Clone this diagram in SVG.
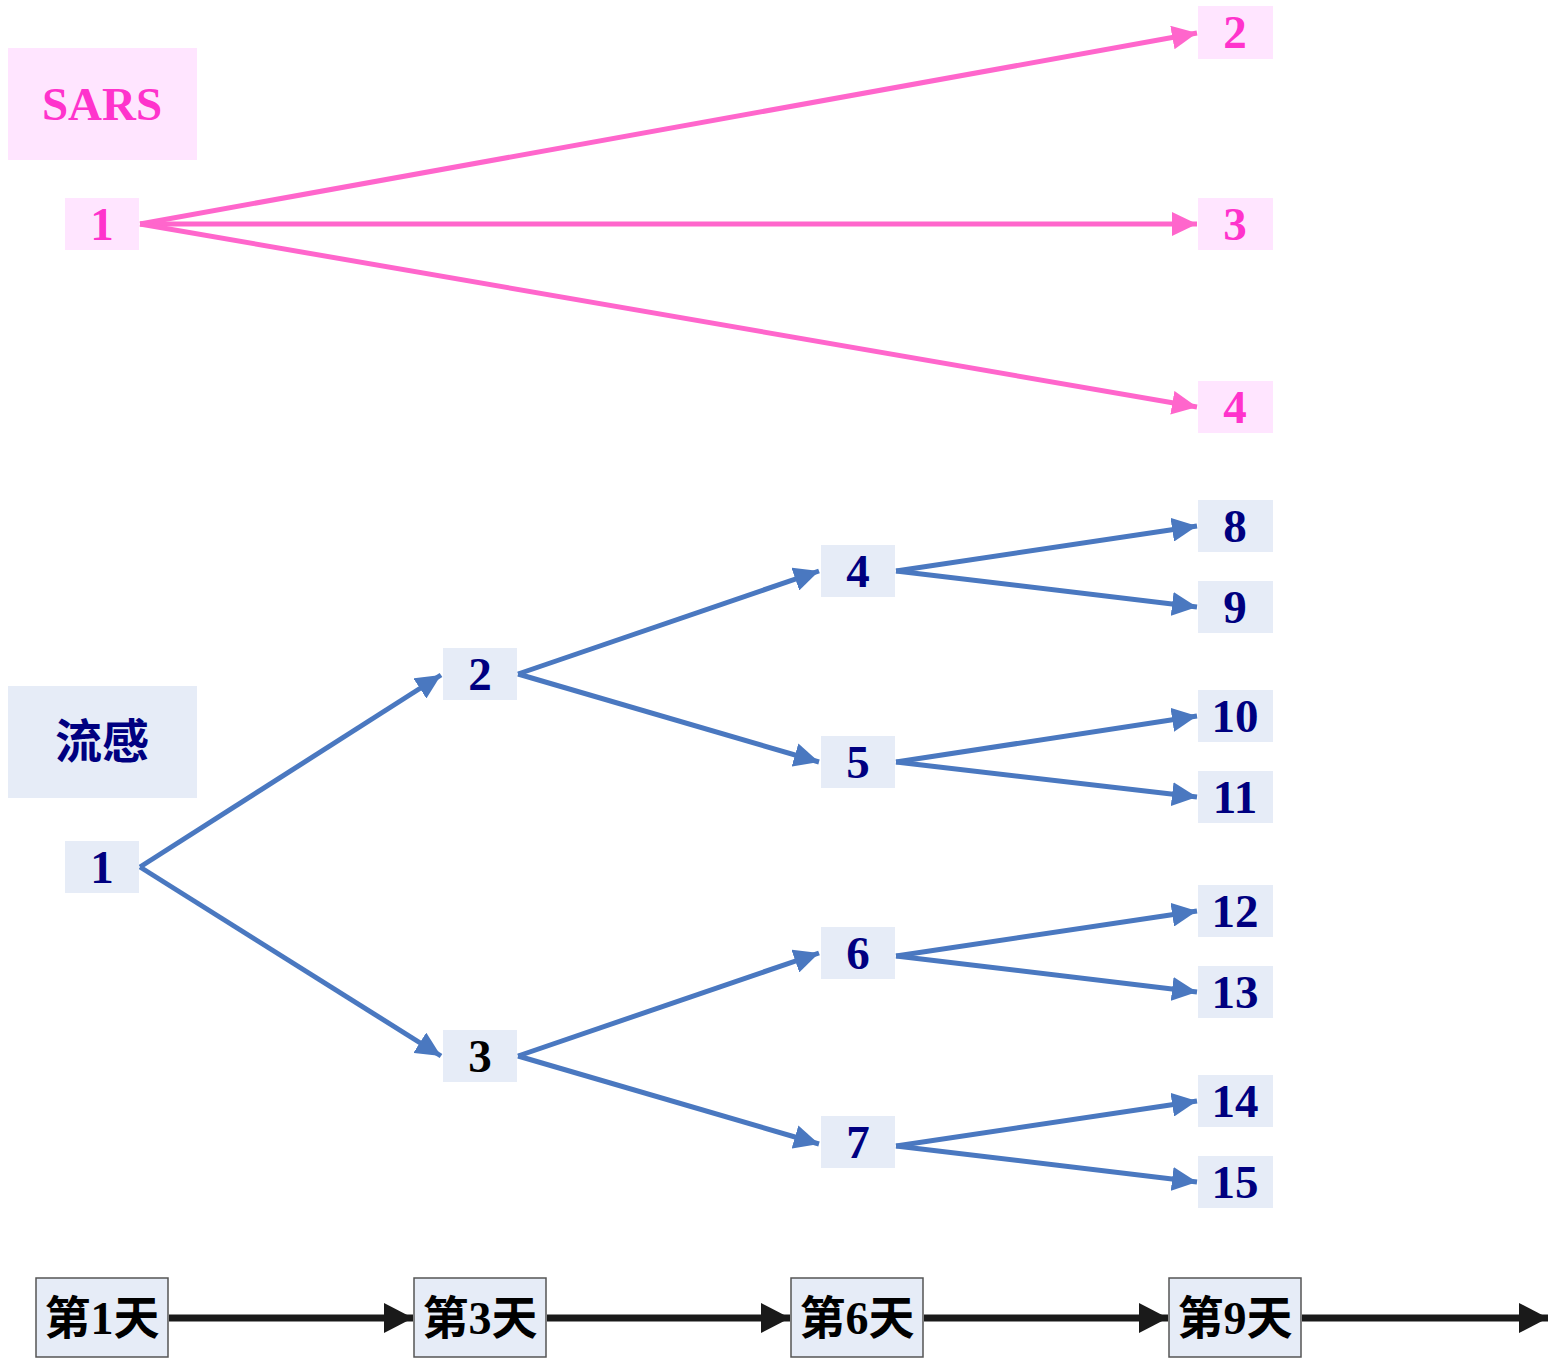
<svg xmlns="http://www.w3.org/2000/svg" width="1551" height="1362" viewBox="0 0 1551 1362">
  <style>
    text { font-family: "Liberation Serif", "Noto Sans CJK SC", serif; font-weight: bold; text-anchor: middle; dominant-baseline: central; }
    .pbox { fill: #FFE5FF; }
    .bbox { fill: #E6ECF7; }
    .ptxt { fill: #FF33CC; font-size: 47px; }
    .btxt { fill: #000080; font-size: 47px; }
    .ktxt { fill: #000000; font-size: 47px; }
    .day { fill: #E6ECF7; stroke: #555555; stroke-width: 1.5; }
    .dtxt { fill: #000000; font-size: 46px; }
    .pl { stroke: #FF66CC; stroke-width: 5; fill: none; marker-end: url(#ah-pink); }
    .bl { stroke: #4A78C0; stroke-width: 5; fill: none; marker-end: url(#ah-blue); }
    .kl { stroke: #1A1A1A; stroke-width: 7; fill: none; marker-end: url(#ah-black); }
  </style>
  <defs>
    <marker id="ah-pink" markerUnits="userSpaceOnUse" markerWidth="26" markerHeight="24" refX="25" refY="12" orient="auto">
      <path d="M0,0 L25,12 L0,24 z" fill="#FF66CC"/>
    </marker>
    <marker id="ah-blue" markerUnits="userSpaceOnUse" markerWidth="26" markerHeight="24" refX="25" refY="12" orient="auto">
      <path d="M0,0 L25,12 L0,24 z" fill="#4A78C0"/>
    </marker>
    <marker id="ah-black" markerUnits="userSpaceOnUse" markerWidth="30" markerHeight="30" refX="29" refY="15" orient="auto">
      <path d="M0,0 L29,15 L0,30 z" fill="#1A1A1A"/>
    </marker>
  </defs>

  <!-- connectors -->
  <g id="connectors">
    <!-- SARS spread -->
    <line class="pl" x1="140" y1="224" x2="1197" y2="33"/>
    <line class="pl" x1="140" y1="224" x2="1197" y2="224"/>
    <line class="pl" x1="140" y1="224" x2="1197" y2="407"/>
    <!-- flu spread -->
    <line class="bl" x1="140" y1="867" x2="441" y2="675"/>
    <line class="bl" x1="140" y1="867" x2="441" y2="1056"/>
    <line class="bl" x1="518" y1="674" x2="819" y2="571"/>
    <line class="bl" x1="518" y1="674" x2="819" y2="762"/>
    <line class="bl" x1="518" y1="1056" x2="819" y2="953"/>
    <line class="bl" x1="518" y1="1056" x2="819" y2="1144"/>
    <line class="bl" x1="896" y1="571" x2="1197" y2="526"/>
    <line class="bl" x1="896" y1="571" x2="1197" y2="607"/>
    <line class="bl" x1="896" y1="762" x2="1197" y2="716"/>
    <line class="bl" x1="896" y1="762" x2="1197" y2="797"/>
    <line class="bl" x1="896" y1="956" x2="1197" y2="911"/>
    <line class="bl" x1="896" y1="956" x2="1197" y2="992"/>
    <line class="bl" x1="896" y1="1146" x2="1197" y2="1101"/>
    <line class="bl" x1="896" y1="1146" x2="1197" y2="1182"/>
    <!-- timeline -->
    <line class="kl" x1="169" y1="1318" x2="413" y2="1318"/>
    <line class="kl" x1="547" y1="1318" x2="790" y2="1318"/>
    <line class="kl" x1="924" y1="1318" x2="1168" y2="1318"/>
    <line class="kl" x1="1302" y1="1318" x2="1548" y2="1318"/>
  </g>

  <!-- SARS group -->
  <g id="sars-label"><rect class="pbox" x="8" y="48" width="189" height="112"/><text class="ptxt" x="102" y="104">SARS</text></g>
  <g id="sars-1"><rect class="pbox" x="65" y="198" width="74" height="52"/><text class="ptxt" x="102" y="224">1</text></g>
  <g id="sars-2"><rect class="pbox" x="1198" y="6" width="75" height="53"/><text class="ptxt" x="1235" y="32">2</text></g>
  <g id="sars-3"><rect class="pbox" x="1198" y="198" width="75" height="52"/><text class="ptxt" x="1235" y="224">3</text></g>
  <g id="sars-4"><rect class="pbox" x="1198" y="381" width="75" height="52"/><text class="ptxt" x="1235" y="407">4</text></g>

  <!-- flu group -->
  <g id="flu-label"><rect class="bbox" x="8" y="686" width="189" height="112"/><text class="btxt" x="102" y="742">流感</text></g>
  <g id="flu-1"><rect class="bbox" x="65" y="841" width="74" height="52"/><text class="btxt" x="102" y="867">1</text></g>
  <g id="flu-2"><rect class="bbox" x="443" y="648" width="74" height="52"/><text class="btxt" x="480" y="674">2</text></g>
  <g id="flu-3"><rect class="bbox" x="443" y="1030" width="74" height="52"/><text class="ktxt" x="480" y="1056">3</text></g>
  <g id="flu-4"><rect class="bbox" x="821" y="545" width="74" height="52"/><text class="btxt" x="858" y="571">4</text></g>
  <g id="flu-5"><rect class="bbox" x="821" y="736" width="74" height="52"/><text class="btxt" x="858" y="762">5</text></g>
  <g id="flu-6"><rect class="bbox" x="821" y="927" width="74" height="52"/><text class="btxt" x="858" y="953">6</text></g>
  <g id="flu-7"><rect class="bbox" x="821" y="1116" width="74" height="52"/><text class="btxt" x="858" y="1142">7</text></g>
  <g id="flu-8"><rect class="bbox" x="1198" y="500" width="75" height="52"/><text class="btxt" x="1235" y="526">8</text></g>
  <g id="flu-9"><rect class="bbox" x="1198" y="581" width="75" height="52"/><text class="btxt" x="1235" y="607">9</text></g>
  <g id="flu-10"><rect class="bbox" x="1198" y="690" width="75" height="52"/><text class="btxt" x="1235" y="716">10</text></g>
  <g id="flu-11"><rect class="bbox" x="1198" y="771" width="75" height="52"/><text class="btxt" x="1235" y="797">11</text></g>
  <g id="flu-12"><rect class="bbox" x="1198" y="885" width="75" height="52"/><text class="btxt" x="1235" y="911">12</text></g>
  <g id="flu-13"><rect class="bbox" x="1198" y="966" width="75" height="52"/><text class="btxt" x="1235" y="992">13</text></g>
  <g id="flu-14"><rect class="bbox" x="1198" y="1075" width="75" height="52"/><text class="btxt" x="1235" y="1101">14</text></g>
  <g id="flu-15"><rect class="bbox" x="1198" y="1156" width="75" height="52"/><text class="btxt" x="1235" y="1182">15</text></g>

  <!-- timeline days -->
  <g id="day-1"><rect class="day" x="36" y="1278" width="132" height="79"/><text class="dtxt" x="102" y="1318">第1天</text></g>
  <g id="day-3"><rect class="day" x="414" y="1278" width="132" height="79"/><text class="dtxt" x="480" y="1318">第3天</text></g>
  <g id="day-6"><rect class="day" x="791" y="1278" width="132" height="79"/><text class="dtxt" x="857" y="1318">第6天</text></g>
  <g id="day-9"><rect class="day" x="1169" y="1278" width="132" height="79"/><text class="dtxt" x="1235" y="1318">第9天</text></g>
</svg>
